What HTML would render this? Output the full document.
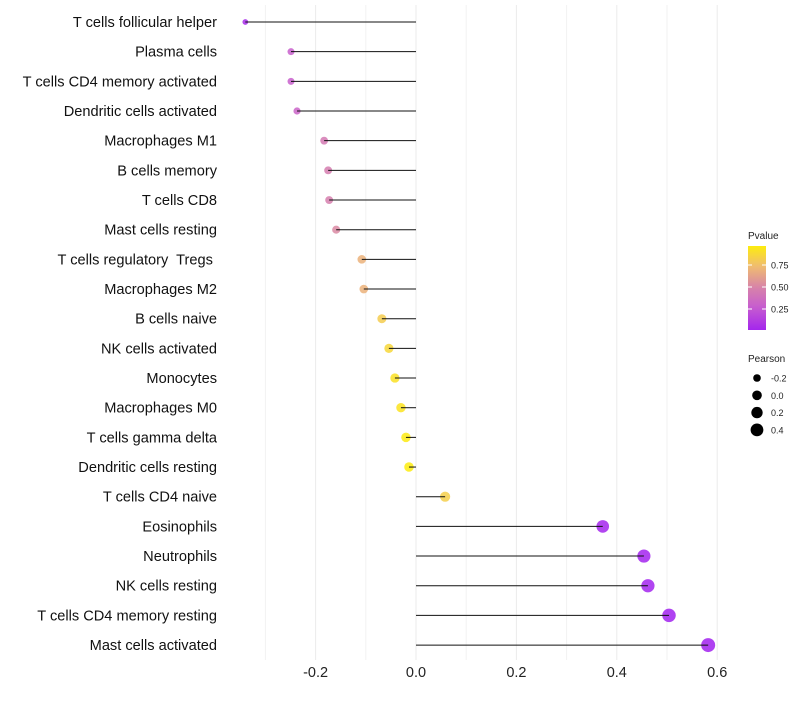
<!DOCTYPE html>
<html><head><meta charset="utf-8"><style>
body{margin:0;background:#fff;font-family:"Liberation Sans",sans-serif}
text{white-space:pre}
</style></head><body>
<svg id="c" width="800" height="700" xmlns="http://www.w3.org/2000/svg" font-family="Liberation Sans, sans-serif"></svg>
<script>
const categories=["T cells follicular helper","Plasma cells","T cells CD4 memory activated","Dendritic cells activated","Macrophages M1","B cells memory","T cells CD8","Mast cells resting","T cells regulatory  Tregs ","Macrophages M2","B cells naive","NK cells activated","Monocytes","Macrophages M0","T cells gamma delta","Dendritic cells resting","T cells CD4 naive","Eosinophils","Neutrophils","NK cells resting","T cells CD4 memory resting","Mast cells activated"];
const pearson=[-0.34,-0.249,-0.249,-0.237,-0.183,-0.175,-0.173,-0.159,-0.108,-0.104,-0.068,-0.054,-0.042,-0.030,-0.020,-0.014,0.058,0.372,0.454,0.462,0.504,0.582];
const pvalue=[0.05,0.3,0.3,0.33,0.45,0.47,0.48,0.53,0.7,0.7,0.82,0.87,0.92,0.93,0.96,0.97,0.83,0.03,0.02,0.02,0.01,0.005];
const xTicks=[-0.2,0,0.2,0.4,0.6];
const xTickLabels=["-0.2","0.0","0.2","0.4","0.6"];
const minorTicks=[-0.3,-0.1,0.1,0.3,0.5];
const pTicks=[0.25,0.5,0.75];
const pTickLabels=["0.25","0.50","0.75"];
const sizeLegend=[-0.2,0,0.2,0.4];
const sizeLegendLabels=["-0.2","0.0","0.2","0.4"];

const svg=document.getElementById('c');
const NS="http://www.w3.org/2000/svg";
const x=v=>416+502*v;
const y=i=>22+i*29.67;
const r=v=>Math.sqrt(Math.max(2.2,23.3+44.2*v));
const stops=[[0,[160,32,240]],[0.3,[200,95,205]],[0.5,[215,130,170]],[0.75,[240,190,110]],[1,[255,242,0]]];
function col(p){for(let k=1;k<stops.length;k++){if(p<=stops[k][0]){const [a,ca]=stops[k-1],[b,cb]=stops[k];const t=(p-a)/(b-a);return `rgb(${ca.map((c,j)=>Math.round(c+(cb[j]-c)*t)).join(',')})`;}}return 'rgb(255,242,0)';}
function el(t,a,txt){const e=document.createElementNS(NS,t);for(const k in a)e.setAttribute(k,a[k]);if(txt!==undefined)e.textContent=txt;svg.appendChild(e);return e;}

minorTicks.forEach(v=>{const g=el('line',{x1:x(v),x2:x(v),y1:5,y2:660,stroke:'#f2f2f2','stroke-width':1});

});
xTicks.forEach((v,i)=>{const g=el('line',{x1:x(v),x2:x(v),y1:5,y2:660,stroke:'#ebebeb','stroke-width':1});


const t=el('text',{x:x(v),y:677,'text-anchor':'middle','font-size':14.5,fill:'#222'},xTickLabels[i]);

});

categories.forEach((c,i)=>{
const t=el('text',{x:217,y:y(i)+5,'text-anchor':'end','font-size':14.6,fill:'#111'},c);


const p=el('circle',{cx:x(pearson[i]),cy:y(i),r:r(pearson[i]),fill:col(pvalue[i]),'fill-opacity':0.85});


const l=el('line',{x1:x(0),x2:x(pearson[i]),y1:y(i),y2:y(i),stroke:'#111','stroke-width':1});


});

const tt=el('text',{x:748,y:239,'font-size':10,fill:'#222'},'Pvalue');


const defs=el('defs',{});
const lg=document.createElementNS(NS,'linearGradient');lg.setAttribute('id','g');lg.setAttribute('x1',0);lg.setAttribute('y1',1);lg.setAttribute('x2',0);lg.setAttribute('y2',0);
for(let k=0;k<=20;k++){const s=document.createElementNS(NS,'stop');s.setAttribute('offset',k/20);s.setAttribute('stop-color',col(0.03+0.94*k/20));lg.appendChild(s);}
defs.appendChild(lg);
const bar=el('rect',{x:748,y:246,width:18,height:84,fill:'url(#g)'});


const py=p=>331-88*p;
pTicks.forEach((p,i)=>{el('line',{x1:748,x2:752,y1:py(p),y2:py(p),stroke:'#fff'});el('line',{x1:762,x2:766,y1:py(p),y2:py(p),stroke:'#fff'});
const t=el('text',{x:771,y:py(p)+3.5,'font-size':9,fill:'#222'},pTickLabels[i]);

});

const st=el('text',{x:748,y:362,'font-size':10,fill:'#222'},'Pearson');


sizeLegend.forEach((v,i)=>{const cy=378+i*17.3;
const c=el('circle',{cx:757,cy:cy,r:r(v),fill:'#000'});


const t=el('text',{x:771,y:cy+3.5,'font-size':9,fill:'#222'},sizeLegendLabels[i]);

});
</script>
</body></html>
